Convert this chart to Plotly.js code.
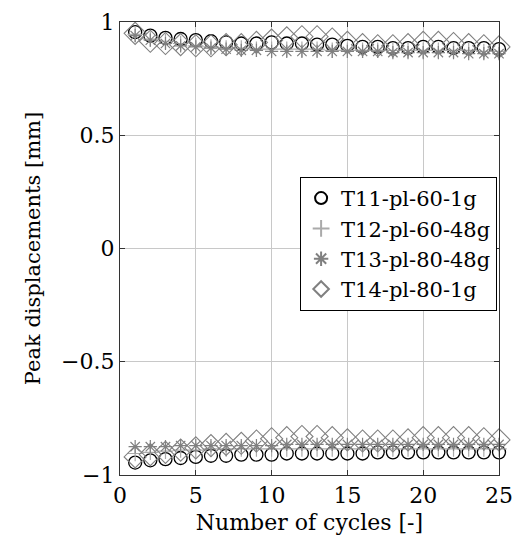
<!DOCTYPE html>
<html>
<head>
<meta charset="utf-8">
<script src="https://cdn.plot.ly/plotly-3.0.1.min.js"></script>
<style>html,body{margin:0;padding:0;background:#fff;}</style>
</head>
<body>
<div id="chart" style="width:515px;height:548px;"></div>
<script>
const cycles = [1,2,3,4,5,6,7,8,9,10,11,12,13,14,15,16,17,18,19,20,21,22,23,24,25];
const seriesNames = ["T11-pl-60-1g","T12-pl-60-48g","T13-pl-80-48g","T14-pl-80-1g"];
const t11Top = [0.955,0.94,0.93,0.925,0.92,0.915,0.91,0.905,0.905,0.91,0.905,0.905,0.9,0.9,0.895,0.89,0.89,0.885,0.885,0.89,0.89,0.885,0.885,0.885,0.88];
const t11Bot = [-0.945,-0.935,-0.93,-0.925,-0.92,-0.915,-0.915,-0.91,-0.91,-0.91,-0.905,-0.905,-0.905,-0.905,-0.905,-0.905,-0.9,-0.9,-0.9,-0.9,-0.9,-0.9,-0.9,-0.9,-0.9];
const t12Top = [0.945,0.925,0.915,0.905,0.895,0.89,0.885,0.885,0.88,0.88,0.88,0.88,0.88,0.875,0.875,0.875,0.875,0.875,0.875,0.875,0.875,0.875,0.875,0.87,0.87];
const t12Bot = [-0.905,-0.9,-0.895,-0.89,-0.89,-0.885,-0.885,-0.885,-0.885,-0.885,-0.885,-0.885,-0.885,-0.885,-0.885,-0.885,-0.885,-0.885,-0.885,-0.885,-0.885,-0.885,-0.885,-0.885,-0.885];
const t13Top = [0.94,0.92,0.905,0.895,0.89,0.885,0.88,0.875,0.875,0.87,0.87,0.87,0.87,0.87,0.87,0.87,0.87,0.865,0.865,0.865,0.865,0.865,0.86,0.86,0.86];
const t13Bot = [-0.875,-0.875,-0.875,-0.87,-0.87,-0.87,-0.87,-0.87,-0.87,-0.87,-0.865,-0.865,-0.865,-0.865,-0.865,-0.865,-0.865,-0.865,-0.865,-0.865,-0.865,-0.865,-0.865,-0.865,-0.865];
const t14Top = [0.95,0.915,0.905,0.9,0.895,0.895,0.9,0.9,0.91,0.92,0.93,0.935,0.935,0.925,0.91,0.9,0.895,0.895,0.9,0.91,0.91,0.905,0.9,0.895,0.89];
const t14Bot = [-0.92,-0.91,-0.9,-0.89,-0.88,-0.87,-0.865,-0.86,-0.85,-0.84,-0.835,-0.83,-0.83,-0.835,-0.845,-0.85,-0.85,-0.85,-0.845,-0.835,-0.835,-0.835,-0.835,-0.84,-0.845];
const yTickVals = [-1,-0.5,0,0.5,1];
const yTickText = ["\u22121","\u22120.5","0","0.5","1"];
const xTickVals = [0,5,10,15,20,25];

const styles = [
  {symbol:"circle-open", size:13, color:"#000", lw:1.3},
  {symbol:"cross-thin-open", size:11, color:"#aaaaaa", lw:1.2},
  {symbol:"asterisk-open", size:11, color:"#808080", lw:1.2},
  {symbol:"diamond-open", size:17, color:"#808080", lw:1.1}
];
const tops = [t11Top,t12Top,t13Top,t14Top];
const bots = [t11Bot,t12Bot,t13Bot,t14Bot];
const traces = [];
for (let i = 0; i < 4; i++) {
  const s = styles[i];
  traces.push({
    x: cycles.concat(cycles),
    y: tops[i].concat(bots[i]),
    mode: "markers",
    type: "scatter",
    name: seriesNames[i],
    marker: {symbol: s.symbol, size: s.size, color: s.color, line: {color: s.color, width: s.lw}},
    cliponaxis: false
  });
}
const fam = "'DejaVu Serif', serif";
const font = {family: fam, size: 21, color: "#000"};
const layout = {
  width: 515, height: 548,
  margin: {l: 120, r: 16, t: 22, b: 73},
  paper_bgcolor: "#fff", plot_bgcolor: "#fff",
  font: font,
  showlegend: true,
  legend: {
    x: 0.995, y: 0.658, xanchor: "right", yanchor: "top",
    bordercolor: "#000", borderwidth: 1, bgcolor: "#fff",
    font: {family: fam, size: 21, color: "#000"},
    itemsizing: "constant", tracegroupgap: 0
  },
  xaxis: {
    range: [0, 25], tickvals: xTickVals, ticktext: xTickVals.map(String),
    showgrid: true, gridcolor: "#c8c8c8", gridwidth: 1,
    zeroline: false, showline: true, linecolor: "#333", linewidth: 1.2, mirror: "ticks",
    ticks: "inside", ticklen: 5, tickcolor: "#333",
    tickfont: {family: fam, size: 22},
    title: {text: "Number of cycles [-]", font: {family: fam, size: 22}, standoff: 8}
  },
  yaxis: {
    range: [-1, 1], tickvals: yTickVals, ticktext: yTickText,
    showgrid: true, gridcolor: "#c8c8c8", gridwidth: 1,
    zeroline: false, showline: true, linecolor: "#333", linewidth: 1.2, mirror: "ticks",
    ticks: "inside", ticklen: 5, tickcolor: "#333",
    tickfont: {family: fam, size: 22},
    title: {text: "Peak displacements [mm]", font: {family: fam, size: 21}, standoff: 14}
  }
};
Plotly.newPlot("chart", traces, layout, {displayModeBar: false, staticPlot: true});
</script>
</body>
</html>
